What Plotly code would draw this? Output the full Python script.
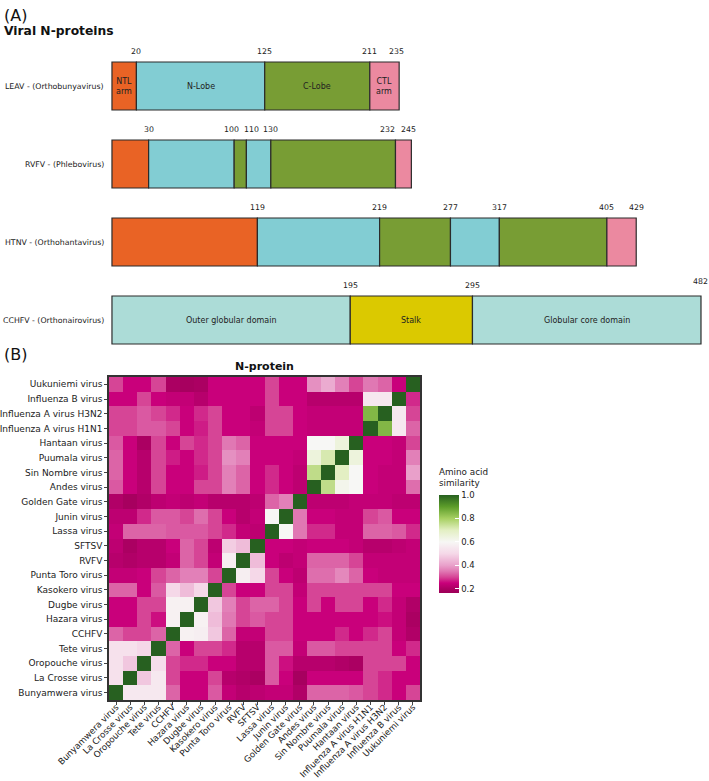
import plotly.graph_objects as go

FONT = "DejaVu Sans"

# ---------------- Panel A data ----------------
proteins = ["LEAV - (Orthobunyavirus)", "RVFV - (Phlebovirus)",
            "HTNV - (Orthohantavirus)", "CCHFV - (Orthonairovirus)"]
seg_starts = [[0, 20, 125, 211],
              [0, 30, 100, 110, 130, 232],
              [0, 119, 219, 277, 317, 405],
              [0, 195, 295]]
seg_ends = [[20, 125, 211, 235],
            [30, 100, 110, 130, 232, 245],
            [119, 219, 277, 317, 405, 429],
            [195, 295, 482]]
seg_domains = [["NTL", "NL", "CL", "CTL"],
               ["NTL", "NL", "CL", "NL", "CL", "CTL"],
               ["NTL", "NL", "CL", "NL", "CL", "CTL"],
               ["OUT", "STALK", "CORE"]]
seg_labels = [["NTL<br>arm", "N-Lobe", "C-Lobe", "CTL<br>arm"],
              ["", "", "", "", "", ""],
              ["", "", "", "", "", ""],
              ["Outer globular domain", "Stalk", "Globular core domain"]]
boundary_labels = [[20, 125, 211, 235],
                   [30, 100, 110, 130, 232, 245],
                   [119, 219, 277, 317, 405, 429],
                   [195, 295, 482]]
domain_colors = {"NTL": "#e96325", "NL": "#82cdd3", "CL": "#789d34",
                 "CTL": "#eb89a0", "OUT": "#acdcd7", "STALK": "#dbc900",
                 "CORE": "#acdcd7"}
# small pixel nudges (label repel) for crowded boundary labels
label_nudge = {(1, 100): -3, (1, 110): 5, (1, 232): -8, (1, 245): -3,
               (0, 235): -3}

# ---------------- Panel B data ----------------
viruses = ["Bunyamwera virus", "La Crosse virus", "Oropouche virus", "Tete virus",
           "CCHFV", "Hazara virus", "Dugbe virus", "Kasokero virus",
           "Punta Toro virus", "RVFV", "SFTSV", "Lassa virus", "Junin virus",
           "Golden Gate virus", "Andes virus", "Sin Nombre virus", "Puumala virus",
           "Hantaan virus", "Influenza A virus H1N1", "Influenza A virus H3N2",
           "Influenza B virus", "Uukuniemi virus"]

# rows listed top (Uukuniemi) to bottom (Bunyamwera); columns in `viruses` order
row_names = viruses[::-1]
similarity = [
    [0.30, 0.25, 0.25, 0.30, 0.20, 0.19, 0.20, 0.25, 0.25, 0.25, 0.25, 0.30, 0.25, 0.25, 0.38, 0.42, 0.36, 0.30, 0.35, 0.33, 0.25, 1.00],
    [0.25, 0.25, 0.30, 0.25, 0.24, 0.24, 0.22, 0.25, 0.25, 0.25, 0.25, 0.30, 0.25, 0.25, 0.22, 0.22, 0.22, 0.22, 0.55, 0.55, 1.00, 0.28],
    [0.30, 0.30, 0.32, 0.30, 0.28, 0.25, 0.28, 0.30, 0.25, 0.25, 0.23, 0.30, 0.30, 0.25, 0.24, 0.24, 0.24, 0.24, 0.85, 1.00, 0.55, 0.30],
    [0.30, 0.30, 0.32, 0.32, 0.30, 0.25, 0.27, 0.30, 0.25, 0.25, 0.24, 0.30, 0.30, 0.25, 0.24, 0.24, 0.24, 0.24, 1.00, 0.85, 0.55, 0.33],
    [0.32, 0.25, 0.20, 0.30, 0.25, 0.30, 0.28, 0.30, 0.35, 0.33, 0.25, 0.25, 0.25, 0.25, 0.60, 0.60, 0.65, 1.00, 0.25, 0.25, 0.24, 0.30],
    [0.33, 0.25, 0.22, 0.30, 0.27, 0.25, 0.28, 0.30, 0.38, 0.36, 0.25, 0.25, 0.25, 0.24, 0.65, 0.72, 1.00, 0.65, 0.25, 0.25, 0.24, 0.36],
    [0.33, 0.25, 0.22, 0.30, 0.25, 0.25, 0.27, 0.30, 0.36, 0.33, 0.25, 0.28, 0.25, 0.23, 0.76, 1.00, 0.70, 0.60, 0.25, 0.24, 0.24, 0.40],
    [0.32, 0.25, 0.22, 0.30, 0.25, 0.25, 0.30, 0.30, 0.36, 0.33, 0.25, 0.28, 0.25, 0.23, 1.00, 0.76, 0.62, 0.60, 0.25, 0.24, 0.24, 0.34],
    [0.21, 0.19, 0.21, 0.23, 0.24, 0.23, 0.24, 0.22, 0.22, 0.22, 0.23, 0.33, 0.36, 1.00, 0.23, 0.23, 0.23, 0.24, 0.24, 0.24, 0.23, 0.23],
    [0.23, 0.23, 0.28, 0.32, 0.32, 0.30, 0.34, 0.30, 0.25, 0.22, 0.24, 0.60, 1.00, 0.35, 0.25, 0.25, 0.24, 0.24, 0.30, 0.32, 0.25, 0.25],
    [0.24, 0.33, 0.33, 0.33, 0.32, 0.32, 0.32, 0.30, 0.28, 0.24, 0.23, 1.00, 0.60, 0.35, 0.28, 0.28, 0.24, 0.24, 0.33, 0.33, 0.32, 0.28],
    [0.23, 0.20, 0.22, 0.22, 0.25, 0.33, 0.30, 0.23, 0.48, 0.45, 1.00, 0.25, 0.25, 0.24, 0.25, 0.25, 0.25, 0.24, 0.22, 0.22, 0.23, 0.24],
    [0.22, 0.21, 0.22, 0.22, 0.24, 0.33, 0.30, 0.24, 0.57, 1.00, 0.45, 0.25, 0.23, 0.24, 0.33, 0.33, 0.33, 0.30, 0.24, 0.24, 0.24, 0.24],
    [0.24, 0.24, 0.25, 0.30, 0.33, 0.36, 0.36, 0.30, 1.00, 0.57, 0.50, 0.30, 0.25, 0.23, 0.34, 0.34, 0.37, 0.33, 0.25, 0.24, 0.24, 0.24],
    [0.33, 0.33, 0.25, 0.32, 0.50, 0.45, 0.50, 1.00, 0.30, 0.25, 0.25, 0.30, 0.30, 0.24, 0.30, 0.30, 0.30, 0.30, 0.30, 0.30, 0.25, 0.25],
    [0.25, 0.25, 0.30, 0.30, 0.58, 0.58, 1.00, 0.47, 0.36, 0.30, 0.33, 0.33, 0.30, 0.25, 0.30, 0.25, 0.30, 0.30, 0.25, 0.28, 0.24, 0.21],
    [0.25, 0.25, 0.30, 0.26, 0.58, 1.00, 0.58, 0.45, 0.35, 0.30, 0.32, 0.30, 0.30, 0.25, 0.25, 0.25, 0.25, 0.25, 0.25, 0.26, 0.24, 0.20],
    [0.33, 0.30, 0.30, 0.33, 1.00, 0.58, 0.57, 0.47, 0.33, 0.24, 0.24, 0.30, 0.30, 0.25, 0.25, 0.25, 0.28, 0.25, 0.28, 0.30, 0.24, 0.21],
    [0.53, 0.53, 0.50, 1.00, 0.33, 0.25, 0.30, 0.30, 0.28, 0.22, 0.22, 0.32, 0.32, 0.24, 0.32, 0.32, 0.30, 0.30, 0.30, 0.30, 0.25, 0.28],
    [0.53, 0.47, 1.00, 0.52, 0.30, 0.28, 0.28, 0.25, 0.25, 0.22, 0.22, 0.32, 0.26, 0.22, 0.22, 0.22, 0.21, 0.20, 0.30, 0.30, 0.30, 0.25],
    [0.53, 1.00, 0.47, 0.55, 0.30, 0.25, 0.25, 0.30, 0.22, 0.21, 0.20, 0.32, 0.25, 0.19, 0.25, 0.25, 0.25, 0.25, 0.30, 0.28, 0.25, 0.25],
    [1.00, 0.55, 0.55, 0.55, 0.33, 0.25, 0.25, 0.32, 0.24, 0.22, 0.23, 0.24, 0.24, 0.21, 0.33, 0.33, 0.33, 0.32, 0.30, 0.28, 0.25, 0.30],
]
colorbar_ticks = [0.2, 0.4, 0.6, 0.8, 1.0]

# ---------------- styling / layout constants ----------------
W, H = 709, 781
ZMIN, ZMAX = 0.165, 1.0
stops = [(0.165, "#9c0057"), (0.20, "#ab0062"), (0.25, "#c9007b"), (0.30, "#d64596"),
         (0.35, "#e078b3"), (0.40, "#e9a0ca"), (0.50, "#f5d8e8"), (0.60, "#f7f7f5"),
         (0.70, "#e3efc3"), (0.80, "#a7d062"), (0.90, "#5d9d2a"), (1.00, "#276020")]
colorscale = [[(v - ZMIN) / (ZMAX - ZMIN), c] for v, c in stops]


def px_x(p):
    return p / W


def px_y(p):
    return 1 - p / H


fig = go.Figure()

# Panel A bars
for i, prot in enumerate(proteins):
    for s, e, d in zip(seg_starts[i], seg_ends[i], seg_domains[i]):
        fig.add_trace(go.Bar(
            x=[e - s], base=[s], y=[i], orientation="h", width=0.615,
            marker=dict(color=domain_colors[d], line=dict(color="#2b2b2b", width=1.2)),
            xaxis="x", yaxis="y", showlegend=False, hoverinfo="skip"))

annotations = []
for i, prot in enumerate(proteins):
    annotations.append(dict(x=px_x(106), xref="paper", y=i, yref="y", text=prot,
                            showarrow=False, xanchor="right",
                            font=dict(family=FONT, size=7.8, color="#222")))
    for s, e, lab in zip(seg_starts[i], seg_ends[i], seg_labels[i]):
        if lab:
            annotations.append(dict(x=(s + e) / 2, xref="x", y=i, yref="y", text=lab,
                                    showarrow=False,
                                    font=dict(family=FONT, size=8, color="#222")))
    for b in boundary_labels[i]:
        annotations.append(dict(x=b, xref="x", y=i - 0.44, yref="y", text=str(b),
                                showarrow=False, yshift=4 if b == 482 else 0,
                                xshift=label_nudge.get((i, b), 0),
                                font=dict(family=FONT, size=7.8, color="#222")))

# Panel B heatmap
fig.add_trace(go.Heatmap(
    z=similarity, x=viruses, y=row_names, xaxis="x2", yaxis="y2",
    colorscale=colorscale, zmin=ZMIN, zmax=ZMAX, xgap=0, ygap=0,
    hoverinfo="skip",
    colorbar=dict(
        x=px_x(439), xanchor="left", xpad=0, y=px_y(593), yanchor="bottom", ypad=0,
        len=98 / H, lenmode="fraction", thickness=20, outlinewidth=0,
        tickvals=colorbar_ticks, ticktext=["0.2", "0.4", "0.6", "0.8", "1.0"],
        ticks="inside", ticklen=4, tickcolor="white",
        tickfont=dict(family=FONT, size=8.5, color="#222"))))

annotations += [
    dict(x=px_x(2), y=px_y(4), xref="paper", yref="paper", text="(A)",
         showarrow=False, xanchor="left", yanchor="top",
         font=dict(family=FONT, size=16, color="#111")),
    dict(x=px_x(2), y=px_y(22), xref="paper", yref="paper", text="<b>Viral N-proteins</b>",
         showarrow=False, xanchor="left", yanchor="top",
         font=dict(family=FONT, size=12.3, color="#111")),
    dict(x=px_x(2), y=px_y(343), xref="paper", yref="paper", text="(B)",
         showarrow=False, xanchor="left", yanchor="top",
         font=dict(family=FONT, size=16, color="#111")),
    dict(x=px_x(264.5), y=px_y(375), xref="paper", yref="paper", text="<b>N-protein</b>",
         showarrow=False, xanchor="center", yanchor="bottom",
         font=dict(family=FONT, size=11, color="#111")),
    dict(x=px_x(437), y=px_y(490), xref="paper", yref="paper",
         text="Amino acid<br>similarity", align="left",
         showarrow=False, xanchor="left", yanchor="bottom",
         font=dict(family=FONT, size=8.8, color="#222")),
]

fig.update_layout(
    width=W, height=H, margin=dict(l=0, r=0, t=0, b=0, autoexpand=False),
    paper_bgcolor="white", plot_bgcolor="white", barmode="overlay",
    showlegend=False,
    xaxis=dict(domain=[px_x(108.3), px_x(707.1)], range=[-3, 487], visible=False,
               fixedrange=True, automargin=False),
    yaxis=dict(domain=[px_y(362.9), px_y(39.2)], range=[3.55, -0.6], visible=False,
               fixedrange=True, automargin=False),
    xaxis2=dict(domain=[px_x(109), px_x(420)], anchor="y2", tickangle=-45,
                automargin=False, ticklabelstandoff=-6,
                ticks="outside", ticklen=3, tickcolor="#444",
                tickfont=dict(family=FONT, size=8.7, color="#222"),
                showline=True, linecolor="#333", linewidth=1.5, mirror=True,
                showgrid=False, zeroline=False),
    yaxis2=dict(domain=[px_y(700), px_y(377)], anchor="x2", autorange="reversed",
                automargin=False,
                ticks="outside", ticklen=3, tickcolor="#444",
                tickfont=dict(family=FONT, size=9, color="#222"),
                showline=True, linecolor="#333", linewidth=1.5, mirror=True,
                showgrid=False, zeroline=False),
    annotations=annotations,
)

fig.write_html("out.html", config={"displayModeBar": False},
               post_script="document.body.style.margin='0';")
